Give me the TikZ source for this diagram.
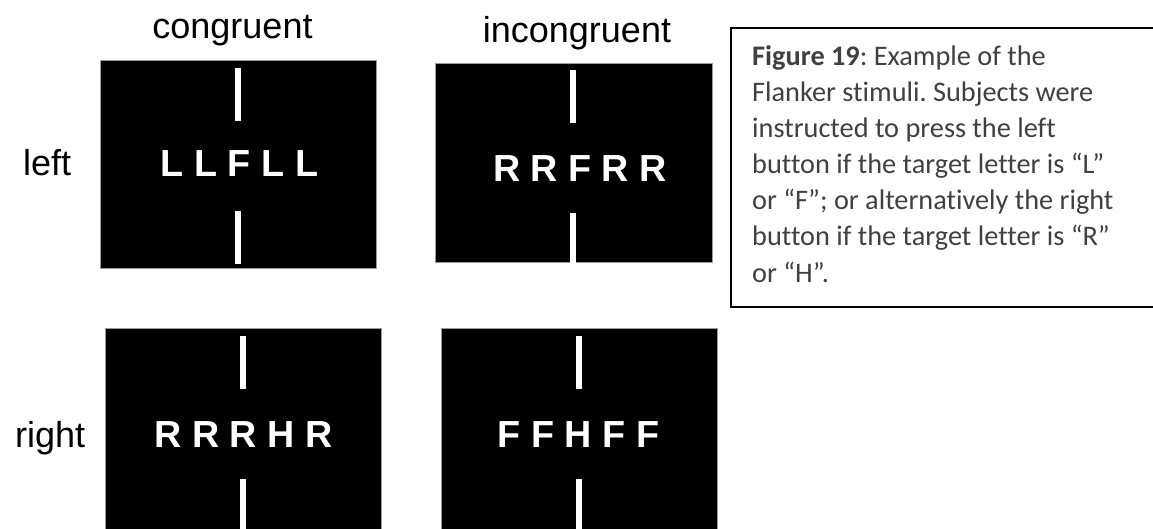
\documentclass[tikz,border=0pt]{standalone}
\usepackage{fontspec}
\setmainfont{Liberation Sans}
\newfontfamily\capfont[Ligatures=NoCommon]{Carlito}
\frenchspacing
\definecolor{captext}{HTML}{404040}
\definecolor{panelrim}{HTML}{9A9A9A}
\tikzset{
  x=1pt, y=-1pt,
  panel/.style={fill=black, draw=panelrim, line width=0.8pt},
  stimrow/.style={anchor=base, inner sep=0pt, text=white,
    font=\fontsize{37.7}{40}\selectfont\bfseries},
  rowlabel/.style={anchor=base west, inner sep=0pt,
    font=\fontsize{36}{40}\selectfont},
  collabel/.style={anchor=base, inner sep=0pt,
    font=\fontsize{36}{40}\selectfont},
  capline/.style={anchor=base west, inner sep=0pt, text=captext,
    font=\capfont\fontsize{28.3}{30}\selectfont\frenchspacing},
}
\newcommand{\fixbars}[3]{% bar x, top bar start y, bottom bar start y
  \fill[white] (#1-2.6,#2) rectangle (#1+2.6,#2+53);
  \fill[white] (#1-2.6,#3) rectangle (#1+2.6,#3+53);
}
\begin{document}
\begin{tikzpicture}
\useasboundingbox (0,0) rectangle (1153,529);
\clip (0,0) rectangle (1153,529);

% column and row labels
\node[collabel] (colcon) at (232.5,39) {congruent};
\node[collabel] (colinc) at (577,43) {incongruent};
\node[rowlabel] (rowleft) at (23,176) {left};
\node[rowlabel] (rowright) at (15,447) {right};

% stimulus panels
\draw[panel] (100,60) rectangle (376,268);
\draw[panel] (435,63) rectangle (712,262);
\draw[panel] (105,328) rectangle (381,540);
\draw[panel] (441,328) rectangle (717,540);

% fixation bars
\fixbars{238}{68}{211}
\fixbars{573}{70}{213}
\fixbars{243}{336}{479}
\fixbars{579}{336}{479}

% letter strings
\node[stimrow] (s1) at (239.5,177) {L L F L L};
\node[stimrow] (s2) at (580,182) {R R F R R};
\node[stimrow] (s3) at (243.5,447) {R R R H R};
\node[stimrow] (s4) at (578.5,447) {F F H F F};

% caption box
\draw[line width=1.6pt] (1160,28) -- (731,28) -- (731,307) -- (1160,307);
\node[capline] (cap1) at (752,66)  {\textbf{Figure 19}: Example of the};
\node[capline] (cap2) at (752,102) {Flanker stimuli. Subjects were};
\node[capline] (cap3) at (752,138) {instructed to press the left};
\node[capline] (cap4) at (752,174) {button if the target letter is “L”};
\node[capline] (cap5) at (752,210) {or “F”; or alternatively the right};
\node[capline] (cap6) at (752,246) {button if the target letter is “R”};
\node[capline] (cap7) at (752,282) {or “H”.};
\end{tikzpicture}
\end{document}
